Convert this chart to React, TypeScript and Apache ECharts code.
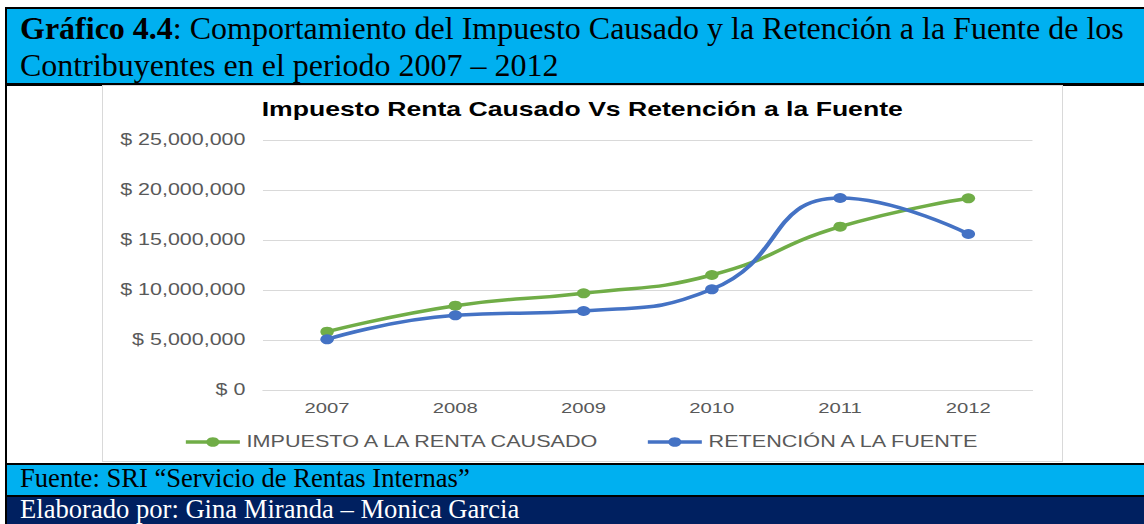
import React, { useEffect, useRef } from "react";
import * as echarts from "echarts";

const years = ["2007", "2008", "2009", "2010", "2011", "2012"];
const impuestoCausado = [5830000, 8430000, 9670000, 11500000, 16330000, 19170000];
const retencionFuente = [5070000, 7470000, 7900000, 10070000, 19200000, 15600000];
const yTicks = { min: 0, max: 25000000, interval: 5000000 };

const seriesNames = ["IMPUESTO A LA RENTA CAUSADO", "RETENCIÓN A LA FUENTE"];
const chartTitle = "Impuesto Renta Causado Vs Retención a la Fuente";

const S = 1.35; // horizontal stretch of the embedded chart image
const SANS = "'Liberation Sans', Arial, sans-serif";
const SERIF = "'Liberation Serif', 'Times New Roman', serif";

function Chart() {
  const ref = useRef<HTMLDivElement>(null);
  useEffect(() => {
    if (!ref.current) return;
    const chart = echarts.init(ref.current, undefined, { renderer: "svg" });
    const fmt = (v: number) => "$ " + Math.round(v).toLocaleString("en-US");
    chart.setOption({
      animation: false,
      title: {
        text: chartTitle,
        left: "center",
        top: 13,
        padding: 0,
        textStyle: { fontFamily: SANS, fontSize: 19.7, fontWeight: "bold", color: "#000" },
      },
      grid: { left: 118.5, right: 21.5, top: 54, bottom: 71, containLabel: false },
      legend: {
        data: seriesNames,
        left: "center",
        top: 343,
        itemWidth: 40,
        itemHeight: 12,
        itemGap: 32,
        lineStyle: { width: 3.5 },
        textStyle: { fontFamily: SANS, fontSize: 16, color: "#595959" },
      },
      xAxis: {
        type: "category",
        data: years,
        boundaryGap: true,
        axisLine: { lineStyle: { color: "#d9d9d9", width: 1 } },
        axisTick: { show: false },
        axisLabel: { fontFamily: SANS, fontSize: 15, color: "#595959", margin: 10 },
      },
      yAxis: {
        type: "value",
        min: yTicks.min,
        max: yTicks.max,
        interval: yTicks.interval,
        axisLine: { show: false },
        axisTick: { show: false },
        splitLine: { lineStyle: { color: "#d9d9d9", width: 1 } },
        axisLabel: { fontFamily: SANS, fontSize: 15.9, color: "#595959", margin: 13, formatter: fmt },
      },
      series: [
        {
          name: seriesNames[0],
          type: "line",
          data: impuestoCausado,
          smooth: 0.5,
          symbol: "circle",
          symbolSize: 10,
          lineStyle: { color: "#70AD47", width: 3.5 },
          itemStyle: { color: "#70AD47" },
        },
        {
          name: seriesNames[1],
          type: "line",
          data: retencionFuente,
          smooth: 0.5,
          symbol: "circle",
          symbolSize: 10,
          lineStyle: { color: "#4472C4", width: 3.5 },
          itemStyle: { color: "#4472C4" },
        },
      ],
    });
    return () => chart.dispose();
  }, []);
  return (
    <div
      ref={ref}
      style={{
        position: "absolute",
        left: 103,
        top: 86,
        width: 959 / S,
        height: 375,
        transform: `scaleX(${S})`,
        transformOrigin: "0 0",
      }}
    />
  );
}

export default function App() {
  const abs = (s: React.CSSProperties): React.CSSProperties => ({ position: "absolute", ...s });
  return (
    <div style={{ position: "fixed", left: 0, top: 0, width: 1144, height: 524, background: "#fff", overflow: "hidden" }}>
      {/* header */}
      <div style={abs({ left: 5, top: 7, width: 1139, height: 2.3, background: "#000" })} />
      <div style={abs({ left: 5, top: 7, width: 2, height: 517, background: "#000" })} />
      <div style={abs({ left: 7, top: 9.3, width: 1137, height: 74, background: "#00B0F0" })} />
      <div style={abs({ left: 7, top: 83.3, width: 1137, height: 2.4, background: "#000" })} />
      <div
        style={abs({
          left: 20,
          top: 10.1,
          fontFamily: SERIF,
          fontSize: 32,
          lineHeight: "36.7px",
          color: "#000",
          whiteSpace: "nowrap",
        })}
      >
        <b>Gráfico 4.4</b>: Comportamiento del Impuesto Causado y la Retención a la Fuente de los
        <br />
        Contribuyentes en el periodo 2007 – 2012
      </div>
      {/* chart box */}
      <div
        style={abs({
          left: 101.5,
          top: 84.5,
          width: 959,
          height: 375,
          border: "1.5px solid #d9d9d9",
          background: "#fff",
        })}
      />
      <Chart />
      {/* footer */}
      <div style={abs({ left: 7, top: 462.7, width: 1137, height: 2, background: "#000" })} />
      <div style={abs({ left: 7, top: 464.7, width: 1137, height: 30, background: "#00B0F0" })} />
      <div style={abs({ left: 7, top: 494.7, width: 1137, height: 2.3, background: "#000" })} />
      <div style={abs({ left: 7, top: 497, width: 1137, height: 27, background: "#002060" })} />
      <div
        style={abs({
          left: 20,
          top: 462.5,
          fontFamily: SERIF,
          fontSize: 26.6,
          lineHeight: "30px",
          color: "#000",
          whiteSpace: "nowrap",
        })}
      >
        Fuente: SRI “Servicio de Rentas Internas”
      </div>
      <div
        style={abs({
          left: 20,
          top: 496.3,
          fontFamily: SERIF,
          fontSize: 26.6,
          lineHeight: "26px",
          color: "#fff",
          whiteSpace: "nowrap",
        })}
      >
        Elaborado por: Gina Miranda – Monica Garcia
      </div>
    </div>
  );
}
